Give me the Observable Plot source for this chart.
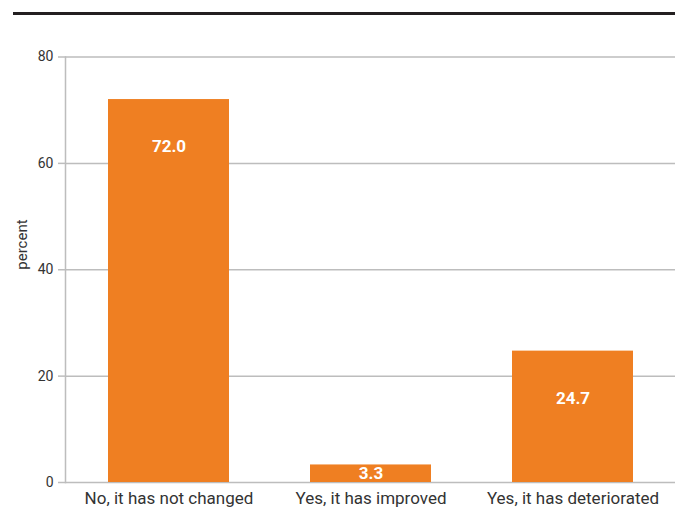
<!DOCTYPE html>
<html>
<head>
<meta charset="utf-8">
<script src="https://cdn.jsdelivr.net/npm/d3@7"></script>
<script src="https://cdn.jsdelivr.net/npm/@observablehq/plot@0.6"></script>
<style>
  html, body { margin: 0; padding: 0; background: #fff; }
  #wrap { position: relative; width: 677px; height: 517px; }
  #rule { position: absolute; left: 13px; top: 12px; width: 662px; height: 0; border-top: 3.5px solid #231f20; }
  #chart svg { display: block; }
</style>
</head>
<body>
<div id="wrap">
  <div id="rule"></div>
  <div id="chart"></div>
</div>
<script>
// Survey answers and their shares
const categories = ["No, it has not changed", "Yes, it has improved", "Yes, it has deteriorated"];
const values = [72.0, 3.3, 24.7];
const yTicks = [0, 20, 40, 60, 80];

const data = categories.map((c, i) => ({category: c, value: values[i]}));

const orange = "#ef7f22";
const font = "Roboto, 'Open Sans', sans-serif";

const chart = Plot.plot({
  width: 677,
  height: 517,
  marginTop: 56.5,
  marginBottom: 35,
  marginLeft: 65,
  marginRight: 2,
  style: {fontFamily: font, background: "transparent"},
  x: {domain: categories, range: [67, 675], paddingInner: 0.4, paddingOuter: 0.2, label: null},
  y: {domain: [0, 80], label: null},
  marks: [
    Plot.gridY(yTicks, {stroke: "#bdbdbd", strokeOpacity: 1, strokeWidth: 1.5}),
    Plot.barY(data, {x: "category", y: "value", fill: orange}),
    Plot.frame({anchor: "left", stroke: "#bdbdbd", strokeWidth: 1.5}),
    Plot.axisY(yTicks, {
      tickSize: 7, tickPadding: 5, stroke: "#bdbdbd", strokeWidth: 1.5,
      fontSize: 14, fill: "#333", label: null
    }),
    Plot.axisX({tickSize: 0, tickPadding: 9, fontSize: 17, fill: "#333", label: null}),
    Plot.text(["percent"], {
      frameAnchor: "left", dx: -43, rotate: -90, fontSize: 15, fill: "#333"
    }),
    // value labels sit near the top of tall bars, centred in short ones
    Plot.text(data, {
      x: "category",
      y: d => Math.max(d.value - 8.85, d.value / 2),
      text: d => d.value.toFixed(1),
      fill: "#fff", fontWeight: "bold", fontSize: 17
    })
  ]
});
document.getElementById("chart").appendChild(chart);
</script>
</body>
</html>
